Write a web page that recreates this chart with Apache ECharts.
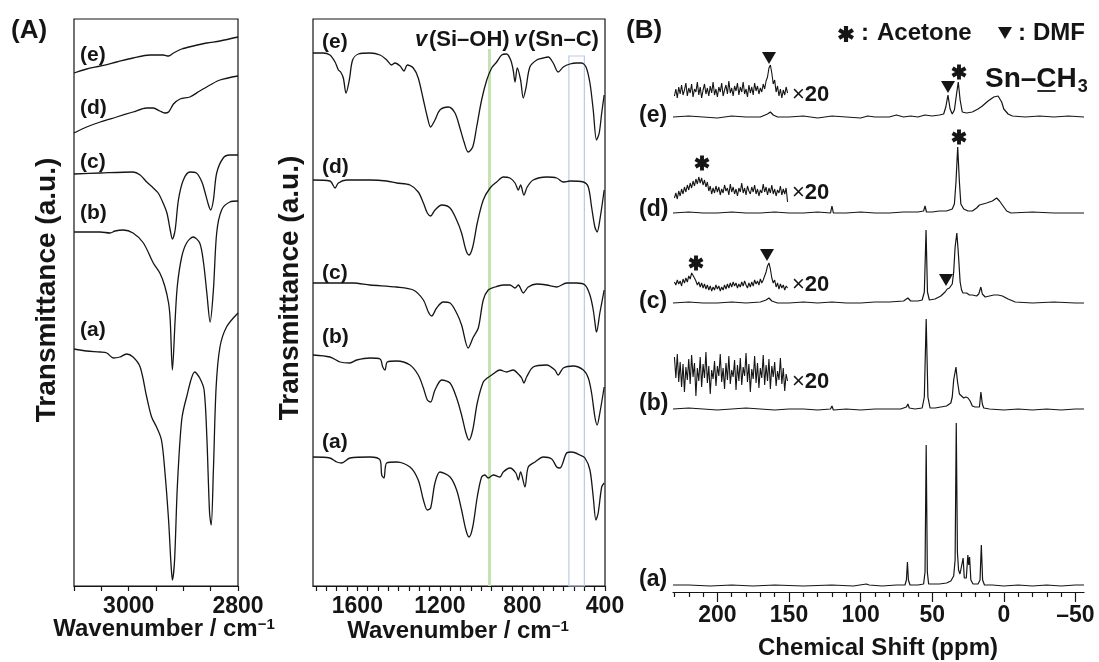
<!DOCTYPE html>
<html>
<head>
<meta charset="utf-8">
<script src="https://cdn.jsdelivr.net/npm/echarts@6/dist/echarts.min.js"></script>
<style>html,body{margin:0;padding:0;background:#fff}#c{width:1099px;height:662px}</style>
</head>
<body>
<div id="c"></div>
<script>
// ---------- DATA ----------
// (A) FT-IR, C-H stretching region  [wavenumber, transmittance (a.u., offset)]
const ftirCH_a = [[3100,237],[3077,235],[3052,234],[3040,233],[3028,228],[3016,229],[3004,232],[2992,229],[2979,219],[2967,189],[2958,169],[2949,159],[2940,146],[2934,116],[2927,66],[2923,26],[2920,6],[2916,26],[2911,99],[2903,166],[2894,189],[2879,214],[2870,208],[2862,196],[2857,149],[2852,73],[2849,61],[2845,116],[2840,199],[2833,239],[2821,259],[2800,273]];
const ftirCH_b = [[3100,354],[3052,354],[3034,353],[3025,355],[3010,356],[2992,353],[2973,343],[2955,323],[2943,313],[2934,300],[2927,283],[2924,266],[2920,216],[2915,266],[2911,300],[2903,329],[2894,343],[2882,349],[2870,343],[2863,323],[2857,293],[2851,264],[2845,296],[2839,353],[2830,376],[2815,384],[2800,385]];
const ftirCH_c = [[3100,412],[3052,413],[2992,414],[2979,411],[2967,404],[2955,398],[2946,393],[2937,383],[2930,373],[2924,356],[2920,347],[2915,356],[2909,386],[2900,406],[2888,414],[2876,413],[2866,404],[2860,393],[2854,381],[2850,376],[2845,386],[2839,413],[2827,428],[2815,431],[2800,431]];
const ftirCH_d = [[3100,453],[3077,459],[3052,464],[3022,469],[2992,474],[2967,478],[2955,478],[2943,475],[2934,473],[2927,474],[2918,482],[2906,487],[2888,489],[2870,495],[2851,501],[2833,506],[2800,510]];
const ftirCH_e = [[3100,513],[3077,517],[3052,520],[3022,524],[2992,528],[2961,531],[2937,531],[2927,530],[2918,533],[2903,537],[2882,540],[2857,543],[2833,545],[2800,549]];

// (A) FT-IR, fingerprint region
const ftirFP_a = [[1815,129],[1733,128],[1700,124],[1676,123],[1636,128],[1539,129],[1490,126],[1482,111],[1471,108],[1458,123],[1409,124],[1345,119],[1305,106],[1280,86],[1261,76],[1245,78],[1224,103],[1200,114],[1151,109],[1119,96],[1095,76],[1074,56],[1059,49],[1041,59],[1019,89],[998,109],[982,111],[966,108],[941,111],[909,109],[893,114],[861,118],[832,113],[820,106],[809,114],[788,99],[772,119],[739,124],[699,129],[658,127],[634,119],[618,118],[586,133],[562,134],[521,131],[497,128],[473,116],[457,89],[444,66],[433,73],[416,99],[404,103]];
const ftirFP_b = [[1815,231],[1733,229],[1684,224],[1636,223],[1603,226],[1539,228],[1490,227],[1477,219],[1466,216],[1455,224],[1409,225],[1345,221],[1305,211],[1280,198],[1261,186],[1245,184],[1224,196],[1191,206],[1151,203],[1119,188],[1095,171],[1074,153],[1059,146],[1041,156],[1019,183],[990,204],[970,208],[949,211],[909,216],[877,214],[845,216],[820,212],[804,208],[793,203],[780,209],[748,219],[683,221],[643,216],[627,211],[602,218],[554,220],[505,216],[481,208],[465,193],[449,169],[438,161],[425,173],[404,199]];
const ftirFP_c = [[1815,303],[1620,303],[1539,301],[1409,299],[1329,296],[1280,286],[1256,274],[1240,270],[1216,278],[1184,284],[1151,283],[1119,273],[1095,261],[1063,238],[1038,249],[1014,258],[990,286],[966,296],[933,299],[893,301],[861,301],[836,298],[820,301],[796,293],[772,299],[731,302],[683,301],[634,299],[586,303],[537,303],[497,301],[473,291],[457,276],[444,256],[441,254],[425,273],[404,296]];
const ftirFP_d = [[1815,406],[1733,405],[1708,398],[1692,403],[1652,406],[1539,406],[1458,405],[1409,403],[1345,401],[1305,394],[1280,383],[1261,373],[1245,370],[1224,376],[1191,381],[1151,378],[1119,366],[1095,353],[1074,336],[1059,331],[1041,339],[1019,363],[990,386],[957,398],[925,404],[893,409],[861,408],[836,403],[820,396],[809,401],[793,391],[777,399],[748,406],[683,409],[634,408],[602,404],[570,405],[505,404],[481,399],[465,379],[449,359],[438,354],[425,366],[404,396]];
const ftirFP_e = [[1815,533],[1805,533],[1765,533],[1733,531],[1708,524],[1692,516],[1681,514],[1668,508],[1655,493],[1639,506],[1623,526],[1595,532],[1539,533],[1490,531],[1458,526],[1434,521],[1418,523],[1393,520],[1374,515],[1358,521],[1329,518],[1305,508],[1280,486],[1261,469],[1245,459],[1224,466],[1200,476],[1159,479],[1127,473],[1103,458],[1083,444],[1063,434],[1041,439],[1022,459],[998,486],[973,506],[949,518],[925,524],[901,531],[877,532],[857,526],[845,516],[836,504],[825,518],[809,506],[796,488],[783,498],[764,519],[731,526],[699,528],[675,529],[651,523],[627,514],[602,519],[570,522],[537,523],[513,523],[492,519],[473,503],[457,476],[441,446],[428,453],[416,473],[404,491]];

const siOH = 960;          // cm-1, green marker line
const snC = [575, 500];    // cm-1, blue box

// (B) 13C CP/MAS NMR  [ppm, intensity (a.u., offset)]
const nmr_a = [[231,7],[220,7],[205,6],[190,7],[175,6],[160,7],[140,6],[120,7],[105,6],[96,8],[94,7],[85,6],[75,7],[69,7],[68,12],[67.3,30],[66.6,12],[65.5,7],[60,7],[56,8],[55,20],[54.2,147],[53.4,20],[52.5,8],[45,8],[40,9],[37,11],[35,16],[34,32],[33.2,169],[32.4,40],[31.6,22],[30.6,18],[29.3,17],[28.4,34],[27.6,14],[26.2,14],[25.1,37],[24.5,27],[23.9,35],[23,12],[21.5,8],[18,8],[16.6,12],[15.7,47],[14.8,12],[13.5,7],[8,7],[0,6],[-10,7],[-20,6],[-30,7],[-40,6],[-50,7],[-56,7]];
const nmr_b = [[231,183],[220,184],[210,183],[200,182],[190,183],[180,184],[170,183],[160,182],[150,183],[140,183],[130,182],[121,183],[120,186],[119,182],[110,183],[100,182],[90,183],[80,183],[72,183],[68,185],[67,188],[66,184],[62,183],[57,184],[55.5,195],[54.2,273],[53,195],[51.5,184],[48,184],[44,185],[40,186],[37,189],[36,195],[35,212],[33.4,225],[32.3,210],[31,198],[29.5,196],[28,194],[26.5,195],[25,194],[23.5,191],[22,186],[20,185],[17,185],[16,200],[15,188],[14,184],[10,183],[0,182],[-10,183],[-20,182],[-30,183],[-40,182],[-50,183],[-56,183]];
const nmr_c = [[231,289],[220,290],[210,289],[200,289],[190,290],[180,289],[170,290],[166,292],[164,294],[162,291],[158,289],[150,289],[140,290],[130,289],[120,290],[110,289],[100,289],[90,290],[80,290],[70,291],[67,294],[65,291],[60,291],[57,292],[55.5,300],[54.3,362],[53.3,300],[52,292],[48,293],[44,296],[41,300],[39.5,303],[38,304],[36,308],[35,320],[34,345],[32.8,359],[31.8,340],[30.5,310],[29.5,302],[28.5,299],[27.5,300],[26,299],[24,297],[22,297],[19,296],[17.5,298],[16,305],[15,298],[13,295],[10,296],[7,297],[4,297],[1,296],[-3,293],[-8,290],[-20,289],[-35,290],[-50,289],[-56,289]];
const nmr_d = [[231,379],[220,380],[210,379],[200,379],[190,380],[180,379],[170,379],[160,380],[150,379],[140,379],[130,380],[121,379],[120,386],[119,379],[110,379],[100,380],[90,379],[80,379],[70,380],[60,380],[56,381],[55,386],[54,380],[50,380],[45,381],[40,381],[36,383],[34.5,388],[33.4,410],[32.2,445],[31,410],[30,388],[28,383],[25,381],[22,381],[19,384],[17,387],[12,389],[8,391],[5,394],[3,391],[0,385],[-2,381],[-5,379],[-20,380],[-35,379],[-50,379],[-56,379]];
const nmr_e = [[231,475],[220,476],[210,475],[200,474],[190,476],[180,475],[170,475],[165,478],[163,480],[161,477],[158,475],[150,475],[140,476],[130,474],[120,476],[110,475],[100,474],[95,476],[90,475],[80,475],[75,477],[70,475],[65,476],[60,475],[55,477],[50,476],[45,477],[42,478],[40.5,485],[39,497],[37.5,483],[36,478],[34.5,482],[33,498],[31.8,510],[30.5,492],[29,480],[26,479],[22,480],[18,483],[15,486],[11,491],[7,495],[4,496],[1.5,490],[0,483],[-3,478],[-6,476],[-15,475],[-25,476],[-35,475],[-45,476],[-56,475]];

// x20 expanded insets (230 - 151 ppm)
const insetPpm = [230,229,228,227,226,225,224,223,222,221,220,219,218,217,216,215,214,213,212,211,210,209,208,207,206,205,204,203,202,201,200,199,198,197,196,195,194,193,192,191,190,189,188,187,186,185,184,183,182,181,180,179,178,177,176,175,174,173,172,171,170,169,168,167,166,165,164,163,162,161,160,159,158,157,156,155,154,153,152,151];
const inset_b = [235,214,238,210,230,205,228,200,225,212,233,208,237,215,229,196,224,211,235,205,228,214,240,209,226,198,222,213,231,206,226,216,238,210,224,203,229,212,236,208,222,215,232,202,227,211,234,207,225,216,239,210,228,200,223,213,236,209,229,204,224,214,237,207,227,211,233,203,226,215,230,206,221,212,234,208,224,201,218,211];
const inset_c = [310,307,312,308,311,306,313,309,314,310,316,313,319,321,314,311,307,310,305,309,304,308,303,307,302,306,301,305,302,307,303,306,301,305,302,307,303,308,304,309,305,310,306,309,304,308,305,310,306,311,307,304,309,305,310,306,312,308,311,307,313,309,312,316,320,326,329,323,314,309,312,305,309,303,308,304,307,302,306,304];
const inset_d = [394,399,393,401,396,403,398,405,400,407,402,409,404,411,406,413,408,415,409,414,407,412,405,410,401,406,398,404,399,406,400,405,397,403,399,407,401,404,397,408,400,405,398,403,396,404,400,409,399,404,397,406,401,398,405,400,407,398,403,396,402,399,408,400,405,397,404,399,407,398,403,396,402,399,406,397,403,398,404,390];
const inset_e = [496,503,494,505,498,507,497,502,509,496,504,499,508,495,503,500,510,497,505,494,502,508,498,504,496,506,499,510,497,503,495,505,500,509,496,502,507,498,511,499,504,496,506,501,509,497,505,500,510,498,503,495,507,499,505,497,509,501,506,498,504,500,508,503,511,515,524,527,519,508,512,500,506,496,503,494,502,497,505,499];

// axis ticks / labels
const tickCH = [3100,3050,3000,2950,2900,2850,2800];
const labelCH = [3000,2800];
const tickFP = [1800,1750,1700,1650,1600,1550,1500,1450,1400,1350,1300,1250,1200,1150,1100,1050,1000,950,900,850,800,750,700,650,600,550,500,450,400];
const labelFP = [1600,1200,800,400];
const tickNMRmajor = [200,150,100,50,0,-50];
const tickNMRminor = [230,220,210,190,180,170,160,140,130,120,110,90,80,70,60,40,30,20,10,-10,-20,-30,-40];
const labelNMR = [200,150,100,50,0,-50];

// ---------- CHART ----------
const FF = '"Liberation Sans", Arial, Helvetica, sans-serif';
const INK = '#151515';
const chart = echarts.init(document.getElementById('c'), null, {renderer: 'canvas'});

const zip = (xs, ys) => xs.map((x, i) => [x, ys[i]]);
function trace(data, xi, yi, opt) {
  return Object.assign({
    type: 'line', xAxisIndex: xi, yAxisIndex: yi, data: data,
    showSymbol: false, symbol: 'none', silent: true, animation: false,
    lineStyle: {color: INK, width: 1.3}, z: 3
  }, opt || {});
}
const lblStyle = {fontSize: 23, fontWeight: 'bold', color: INK, fontFamily: FF};
function baseX(grid, min, max, ticks, labels, tickLen, margin) {
  return {
    gridIndex: grid, type: 'value', min: min, max: max, inverse: true, position: 'bottom',
    axisLine: {show: true, onZero: false, lineStyle: {color: INK, width: 1.2}},
    axisTick: {show: true, inside: false, length: tickLen, customValues: ticks, lineStyle: {color: INK, width: 1.2}},
    axisLabel: Object.assign({show: true, customValues: labels, margin: margin,
      formatter: v => (v < 0 ? '\u2013' + (-v) : String(v))}, lblStyle),
    splitLine: {show: false}
  };
}

const ctx = document.createElement('canvas').getContext('2d');
function measure(t, font) { ctx.font = font; return ctx.measureText(t).width; }

function T(x, y, text, size, o) {
  o = o || {};
  return {
    type: 'text', x: x, y: y, rotation: o.rot || 0, silent: true, z: 10,
    style: {
      text: text, fill: INK,
      font: (o.style || 'normal') + ' ' + (o.weight || 'bold') + ' ' + size + 'px ' + FF,
      align: o.align || 'left', verticalAlign: 'middle', rich: o.rich
    }
  };
}
// six-spoke asterisk outline (annotation glyph)
function star(cx, cy, s) {
  s = s || 15;
  const L = s / 2, w = s * 0.13, rin = 2 * w, pts = [];
  for (let k = 0; k < 6; k++) {
    const a = -Math.PI / 2 + k * Math.PI / 3;
    const ux = Math.cos(a), uy = Math.sin(a), vx = -uy, vy = ux;
    pts.push([cx + L * ux - w * vx, cy + L * uy - w * vy]);
    pts.push([cx + L * ux + w * vx, cy + L * uy + w * vy]);
    const b = a + Math.PI / 6;
    pts.push([cx + rin * Math.cos(b), cy + rin * Math.sin(b)]);
  }
  return {type: 'polygon', silent: true, z: 10, shape: {points: pts}, style: {fill: INK}};
}
function tri(cx, cy) {
  return {type: 'polygon', silent: true, z: 10,
    shape: {points: [[cx - 7, cy - 6], [cx + 7, cy - 6], [cx, cy + 6]]}, style: {fill: INK}};
}

const graphics = [];
graphics.push(T(11, 31, '(A)', 26));
graphics.push(T(626, 31, '(B)', 26));
[['(e)',55],['(d)',108],['(c)',162],['(b)',213],['(a)',330]].forEach(p => graphics.push(T(80, p[1], p[0], 21)));
[['(e)',42],['(d)',167],['(c)',273],['(b)',337],['(a)',442]].forEach(p => graphics.push(T(322, p[1], p[0], 21)));
graphics.push(T(415, 40, 'v', 22, {style: 'italic'}));
graphics.push(T(429, 40, '(Si\u2013OH)', 22));
graphics.push(T(514, 40, 'v', 22, {style: 'italic'}));
graphics.push(T(528, 40, '(Sn\u2013C)', 22));
graphics.push(T(47, 290, 'Transmittance (a.u.)', 28, {align: 'center', rot: Math.PI / 2}));
graphics.push(T(290, 288, 'Transmittance (a.u.)', 28, {align: 'center', rot: Math.PI / 2}));
const wnRich = {m: {font: 'bold 24px ' + FF, fill: INK}, s: {font: 'bold 15px ' + FF, fill: INK, verticalAlign: 'top'}};
graphics.push(T(164, 629, '{m|Wavenumber / cm}{s|\u22121}', 24, {align: 'center', rich: wnRich}));
graphics.push(T(458, 631, '{m|Wavenumber / cm}{s|\u22121}', 24, {align: 'center', rich: wnRich}));
graphics.push(T(878, 648, 'Chemical Shift (ppm)', 24, {align: 'center'}));
[['(e)',116],['(d)',210],['(c)',302],['(b)',404],['(a)',580]].forEach(p => graphics.push(T(639, p[1], p[0], 23)));
const xRich = {a: {font: 'normal 22px ' + FF, fill: INK}, b: {font: 'bold 22px ' + FF, fill: INK}};
[95,193,285,382].forEach(y => graphics.push(T(792, y, '{a|\u00d7}{b|20}', 22, {rich: xRich})));
graphics.push(star(846, 34, 16));
graphics.push(T(865, 33, ':', 24, {align: 'center'}));
graphics.push(T(877, 33, 'Acetone', 24));
graphics.push(tri(1005, 33));
graphics.push(T(1022, 33, ':', 24, {align: 'center'}));
graphics.push(T(1033, 33, 'DMF', 24));
graphics.push(tri(769, 58));
graphics.push(tri(948, 87));
graphics.push(star(959, 72, 15));
graphics.push(star(959, 137, 15));
graphics.push(star(702, 163, 15));
graphics.push(star(696, 263, 15));
graphics.push(tri(767, 255));
graphics.push(tri(946, 280));
(function () {
  const f = 'bold 28px ' + FF;
  const x0 = 985, y0 = 79;
  const w1 = measure('Sn\u2013', f), wC = measure('C', f), wH = measure('H', f);
  graphics.push(T(x0, y0, 'Sn\u2013CH', 28));
  graphics.push(T(x0 + w1 + wC + wH + 1, y0 + 8, '3', 18));
  graphics.push({type: 'line', silent: true, z: 10,
    shape: {x1: x0 + w1 + 1, y1: y0 + 12, x2: x0 + w1 + wC - 1, y2: y0 + 12},
    style: {stroke: INK, lineWidth: 1.8}});
})();

const option = {
  backgroundColor: '#ffffff',
  animation: false,
  grid: [
    {left: 74, top: 19, width: 164, height: 567, show: true, borderColor: INK, borderWidth: 1.2, backgroundColor: 'transparent', outerBoundsMode: 'none'},
    {left: 313, top: 19, width: 292, height: 567, show: true, borderColor: INK, borderWidth: 1.2, backgroundColor: 'transparent', outerBoundsMode: 'none'},
    {left: 673, top: 19, width: 411, height: 573, show: false, outerBoundsMode: 'none'}
  ],
  xAxis: [
    baseX(0, 2800, 3100, tickCH, labelCH, 5, 9),
    baseX(1, 400, 1815, tickFP, labelFP, 5, 9),
    baseX(2, -56, 231, tickNMRmajor, labelNMR, 10, 12),
    {gridIndex: 2, type: 'value', min: -56, max: 231, inverse: true, position: 'bottom',
     axisLine: {show: false}, axisLabel: {show: false}, splitLine: {show: false},
     axisTick: {show: true, inside: false, length: 5, customValues: tickNMRminor, lineStyle: {color: INK, width: 1.2}}}
  ],
  yAxis: [
    {gridIndex: 0, type: 'value', min: 0, max: 567, show: false, splitLine: {show: false}},
    {gridIndex: 1, type: 'value', min: 0, max: 567, show: false, splitLine: {show: false}},
    {gridIndex: 2, type: 'value', min: 0, max: 573, show: false, splitLine: {show: false}}
  ],
  series: [
    trace(ftirCH_a, 0, 0, {smooth: 0.3}),
    trace(ftirCH_b, 0, 0, {smooth: 0.3}),
    trace(ftirCH_c, 0, 0, {smooth: 0.3}),
    trace(ftirCH_d, 0, 0, {smooth: 0.3}),
    trace(ftirCH_e, 0, 0, {smooth: 0.3}),
    trace(ftirFP_a, 1, 1, {smooth: 0.3,
      markLine: {silent: true, symbol: 'none', label: {show: false}, animation: false, z: 1,
        lineStyle: {color: '#c6e2b2', width: 3, type: 'solid'},
        data: [[{coord: [siOH, 537]}, {coord: [siOH, 0]}]]},
      markArea: {silent: true, label: {show: false}, animation: false, z: 1,
        itemStyle: {color: 'rgba(0,0,0,0)', borderColor: '#b9cce6', borderWidth: 1.2},
        data: [[{coord: [snC[0], 530]}, {coord: [snC[1], 0]}]]}
    }),
    trace(ftirFP_b, 1, 1, {smooth: 0.3}),
    trace(ftirFP_c, 1, 1, {smooth: 0.3}),
    trace(ftirFP_d, 1, 1, {smooth: 0.3}),
    trace(ftirFP_e, 1, 1, {smooth: 0.3}),
    trace(nmr_a, 2, 2, {lineStyle: {color: INK, width: 1.2}}),
    trace(nmr_b, 2, 2, {lineStyle: {color: INK, width: 1.2}}),
    trace(nmr_c, 2, 2, {lineStyle: {color: INK, width: 1.2}}),
    trace(nmr_d, 2, 2, {lineStyle: {color: INK, width: 1.2}}),
    trace(nmr_e, 2, 2, {lineStyle: {color: INK, width: 1.2}}),
    trace(zip(insetPpm, inset_b), 2, 2, {lineStyle: {color: INK, width: 1.1}}),
    trace(zip(insetPpm, inset_c), 2, 2, {lineStyle: {color: INK, width: 1.1}}),
    trace(zip(insetPpm, inset_d), 2, 2, {lineStyle: {color: INK, width: 1.1}}),
    trace(zip(insetPpm, inset_e), 2, 2, {lineStyle: {color: INK, width: 1.1}})
  ],
  graphic: graphics
};
chart.setOption(option);
</script>
</body>
</html>
